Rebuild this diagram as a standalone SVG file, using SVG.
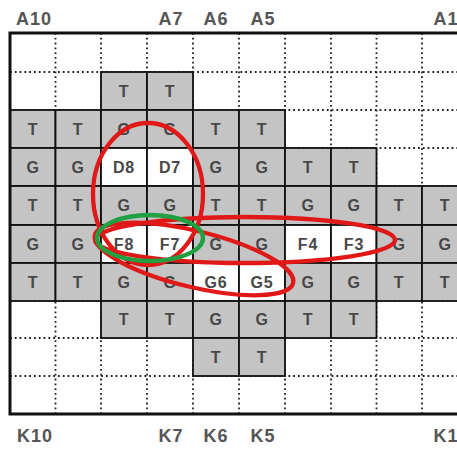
<svg xmlns="http://www.w3.org/2000/svg" width="457" height="451" viewBox="0 0 457 451">
<style>
.dot{stroke:#222;stroke-width:1.8;stroke-dasharray:1.8 3;fill:none}
.g{fill:#c4c4c4;stroke:#111;stroke-width:1.8}
.w{fill:#ffffff;stroke:#111;stroke-width:1.8}
.t{font-family:"Liberation Sans",Arial,sans-serif;font-size:16px;font-weight:bold;fill:#484848;text-anchor:middle;letter-spacing:0.8px}
.lab{font-family:"Liberation Sans",Arial,sans-serif;font-size:18px;font-weight:bold;fill:#555;text-anchor:middle;letter-spacing:1px}
.red{fill:none;stroke:#e01818;stroke-width:4.3}
.grn{fill:none;stroke:#20a040;stroke-width:4.3}
</style>
<rect width="457" height="451" fill="#fff"/>
<g id="grid-dotted">
<path class="dot" d="M55.5 33V414M101 33V414M147 33V414M193 33V414M239 33V414M285 33V414M331 33V414M376.5 33V414M422 33V414"/>
<path class="dot" d="M10 72H468M10 110H468M10 148H468M10 186H468M10 225H468M10 263H468M10 301H468M10 338H468M10 376H468"/>
</g>
<g id="row-B">
<rect class="g" x="101" y="72" width="46" height="38"/><text class="t" x="124" y="97">T</text>
<rect class="g" x="147" y="72" width="46" height="38"/><text class="t" x="170" y="97">T</text>
</g>
<g id="row-C">
<rect class="g" x="10" y="110" width="45.5" height="38"/><text class="t" x="33" y="135">T</text>
<rect class="g" x="55.5" y="110" width="45.5" height="38"/><text class="t" x="78" y="135">T</text>
<rect class="g" x="101" y="110" width="46" height="38"/><text class="t" x="124" y="135">G</text>
<rect class="g" x="147" y="110" width="46" height="38"/><text class="t" x="170" y="135">G</text>
<rect class="g" x="193" y="110" width="46" height="38"/><text class="t" x="216" y="135">T</text>
<rect class="g" x="239" y="110" width="46" height="38"/><text class="t" x="262" y="135">T</text>
</g>
<g id="row-D">
<rect class="g" x="10" y="148" width="45.5" height="38"/><text class="t" x="33" y="173">G</text>
<rect class="g" x="55.5" y="148" width="45.5" height="38"/><text class="t" x="78" y="173">G</text>
<g id="D8"><rect class="w" x="101" y="148" width="46" height="38"/><text class="t" x="124" y="173">D8</text></g>
<g id="D7"><rect class="w" x="147" y="148" width="46" height="38"/><text class="t" x="170" y="173">D7</text></g>
<rect class="g" x="193" y="148" width="46" height="38"/><text class="t" x="216" y="173">G</text>
<rect class="g" x="239" y="148" width="46" height="38"/><text class="t" x="262" y="173">G</text>
<rect class="g" x="285" y="148" width="46" height="38"/><text class="t" x="308" y="173">T</text>
<rect class="g" x="331" y="148" width="45.5" height="38"/><text class="t" x="354" y="173">T</text>
</g>
<g id="row-E">
<rect class="g" x="10" y="186" width="45.5" height="39"/><text class="t" x="33" y="211">T</text>
<rect class="g" x="55.5" y="186" width="45.5" height="39"/><text class="t" x="78" y="211">T</text>
<rect class="g" x="101" y="186" width="46" height="39"/><text class="t" x="124" y="211">G</text>
<rect class="g" x="147" y="186" width="46" height="39"/><text class="t" x="170" y="211">G</text>
<rect class="g" x="193" y="186" width="46" height="39"/><text class="t" x="216" y="211">T</text>
<rect class="g" x="239" y="186" width="46" height="39"/><text class="t" x="262" y="211">T</text>
<rect class="g" x="285" y="186" width="46" height="39"/><text class="t" x="308" y="211">G</text>
<rect class="g" x="331" y="186" width="45.5" height="39"/><text class="t" x="354" y="211">G</text>
<rect class="g" x="376.5" y="186" width="45.5" height="39"/><text class="t" x="399" y="211">T</text>
<rect class="g" x="422" y="186" width="46" height="39"/><text class="t" x="445" y="211">T</text>
</g>
<g id="row-F">
<rect class="g" x="10" y="225" width="45.5" height="38"/><text class="t" x="33" y="250">G</text>
<rect class="g" x="55.5" y="225" width="45.5" height="38"/><text class="t" x="78" y="250">G</text>
<g id="F8"><rect class="w" x="101" y="225" width="46" height="38"/><text class="t" x="124" y="250">F8</text></g>
<g id="F7"><rect class="w" x="147" y="225" width="46" height="38"/><text class="t" x="170" y="250">F7</text></g>
<rect class="g" x="193" y="225" width="46" height="38"/><text class="t" x="216" y="250">G</text>
<rect class="g" x="239" y="225" width="46" height="38"/><text class="t" x="262" y="250">G</text>
<g id="F4"><rect class="w" x="285" y="225" width="46" height="38"/><text class="t" x="308" y="250">F4</text></g>
<g id="F3"><rect class="w" x="331" y="225" width="45.5" height="38"/><text class="t" x="354" y="250">F3</text></g>
<rect class="g" x="376.5" y="225" width="45.5" height="38"/><text class="t" x="399" y="250">G</text>
<rect class="g" x="422" y="225" width="46" height="38"/><text class="t" x="445" y="250">G</text>
</g>
<g id="row-G">
<rect class="g" x="10" y="263" width="45.5" height="38"/><text class="t" x="33" y="288">T</text>
<rect class="g" x="55.5" y="263" width="45.5" height="38"/><text class="t" x="78" y="288">T</text>
<rect class="g" x="101" y="263" width="46" height="38"/><text class="t" x="124" y="288">G</text>
<rect class="g" x="147" y="263" width="46" height="38"/><text class="t" x="170" y="288">G</text>
<g id="G6"><rect class="w" x="193" y="263" width="46" height="38"/><text class="t" x="216" y="288">G6</text></g>
<g id="G5"><rect class="w" x="239" y="263" width="46" height="38"/><text class="t" x="262" y="288">G5</text></g>
<rect class="g" x="285" y="263" width="46" height="38"/><text class="t" x="308" y="288">G</text>
<rect class="g" x="331" y="263" width="45.5" height="38"/><text class="t" x="354" y="288">G</text>
<rect class="g" x="376.5" y="263" width="45.5" height="38"/><text class="t" x="399" y="288">T</text>
<rect class="g" x="422" y="263" width="46" height="38"/><text class="t" x="445" y="288">T</text>
</g>
<g id="row-H">
<rect class="g" x="101" y="301" width="46" height="37"/><text class="t" x="124" y="325">T</text>
<rect class="g" x="147" y="301" width="46" height="37"/><text class="t" x="170" y="325">T</text>
<rect class="g" x="193" y="301" width="46" height="37"/><text class="t" x="216" y="325">G</text>
<rect class="g" x="239" y="301" width="46" height="37"/><text class="t" x="262" y="325">G</text>
<rect class="g" x="285" y="301" width="46" height="37"/><text class="t" x="308" y="325">T</text>
<rect class="g" x="331" y="301" width="45.5" height="37"/><text class="t" x="354" y="325">T</text>
</g>
<g id="row-J">
<rect class="g" x="193" y="338" width="46" height="38"/><text class="t" x="216" y="363">T</text>
<rect class="g" x="239" y="338" width="46" height="38"/><text class="t" x="262" y="363">T</text>
</g>
<rect id="border" x="10" y="33" width="458" height="381" fill="none" stroke="#111" stroke-width="3"/>
<g id="labels">
<text class="lab" x="34" y="25">A10</text>
<text class="lab" x="171" y="25">A7</text>
<text class="lab" x="216" y="25">A6</text>
<text class="lab" x="263" y="25">A5</text>
<text class="lab" x="446" y="25">A1</text>
<text class="lab" x="35" y="442">K10</text>
<text class="lab" x="171" y="442">K7</text>
<text class="lab" x="216" y="442">K6</text>
<text class="lab" x="263" y="442">K5</text>
<text class="lab" x="446" y="442">K1</text>
</g>
<g id="connectors">
<ellipse class="red" cx="148" cy="194" rx="55" ry="71"/>
<ellipse class="red" cx="245" cy="240" rx="150" ry="23"/>
<ellipse class="red" cx="194" cy="259" rx="102" ry="28" transform="rotate(13.6 194 259)"/>
<ellipse class="grn" cx="150" cy="238" rx="53" ry="23"/>
</g>
</svg>
